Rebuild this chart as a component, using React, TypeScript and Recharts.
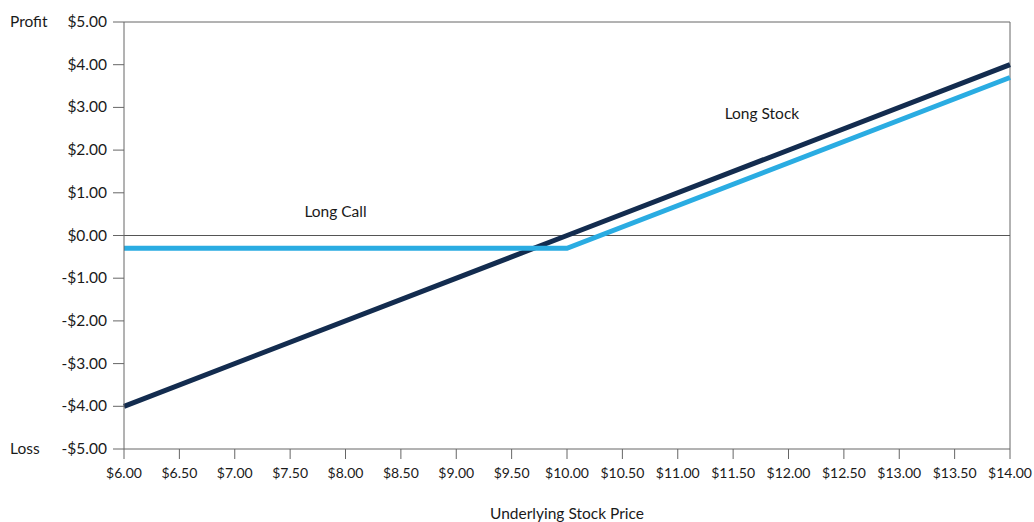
import { LineChart, Line, XAxis, YAxis, ReferenceLine, ReferenceDot, Label } from 'recharts'

const prices = [6, 10, 14]
const longStock = [-4, 0, 4]
const longCall = [-0.3, -0.3, 3.7]

const xTicks = [6, 6.5, 7, 7.5, 8, 8.5, 9, 9.5, 10, 10.5, 11, 11.5, 12, 12.5, 13, 13.5, 14]
const yTicks = [-5, -4, -3, -2, -1, 0, 1, 2, 3, 4, 5]

const data = prices.map((p, i) => ({ price: p, stock: longStock[i], call: longCall[i] }))

const FONT = 'Lato, "Open Sans", sans-serif'
const TEXT = '#1a1a1a'
const AXIS = '#666'

const money = (v: number) => (v < 0 ? '-$' : '$') + Math.abs(v).toFixed(2)

function YTick(props: any) {
  const { x, y, payload } = props
  const v = payload.value
  return (
    <g>
      <text x={x} y={y} dy={5} textAnchor="end" fill={TEXT} fontSize={15.5} fontFamily={FONT}>
        {money(v)}
      </text>
      {v === 5 && (
        <text x={10} y={y} dy={5} fill={TEXT} fontSize={15.5} fontFamily={FONT}>Profit</text>
      )}
      {v === -5 && (
        <text x={10} y={y} dy={5} fill={TEXT} fontSize={15.5} fontFamily={FONT}>Loss</text>
      )}
    </g>
  )
}

export default function App() {
  return (
    <div style={{ position: 'absolute', left: 0, top: 0 }}>
      <LineChart width={1034} height={522} data={data} margin={{ top: 22, right: 24, bottom: 0, left: 64 }}>
        <XAxis
          dataKey="price"
          type="number"
          domain={[6, 14]}
          ticks={xTicks}
          tickFormatter={money}
          tickSize={10}
          tickMargin={9}
          stroke={AXIS}
          height={73}
          tick={{ fill: TEXT, fontSize: 14, fontFamily: FONT }}
        >
          <Label value="Underlying Stock Price" position="insideBottom" offset={3} fill={TEXT} fontSize={15.5} fontFamily={FONT} />
        </XAxis>
        <YAxis
          type="number"
          domain={[-5, 5]}
          ticks={yTicks}
          width={60}
          tickSize={11}
          tickMargin={6}
          stroke={AXIS}
          tick={<YTick />}
        />
        <ReferenceLine y={5} stroke={AXIS} />
        <ReferenceLine x={14} stroke={AXIS} />
        <ReferenceLine y={0} stroke="#555" />
        <Line dataKey="stock" stroke="#132c4f" strokeWidth={5} dot={false} isAnimationActive={false} />
        <Line dataKey="call" stroke="#2aace2" strokeWidth={5} dot={false} isAnimationActive={false} />
        <ReferenceDot x={7.91} y={0.56} r={0} stroke="none" fill="none">
          <Label value="Long Call" position="center" fill={TEXT} fontSize={15.5} fontFamily={FONT} />
        </ReferenceDot>
        <ReferenceDot x={11.76} y={2.86} r={0} stroke="none" fill="none">
          <Label value="Long Stock" position="center" fill={TEXT} fontSize={15.5} fontFamily={FONT} />
        </ReferenceDot>
      </LineChart>
    </div>
  )
}
